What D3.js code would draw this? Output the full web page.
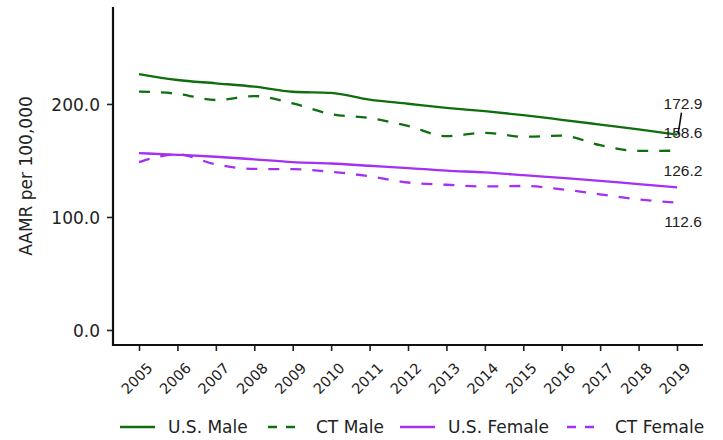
<!DOCTYPE html>
<html><head><meta charset="utf-8">
<script src="https://cdn.jsdelivr.net/npm/d3@7"></script>
<style>body{margin:0;background:#fff}svg{display:block}</style>
</head><body>
<svg id="chart" width="723" height="440"></svg>
<script>
const years = [2005,2006,2007,2008,2009,2010,2011,2012,2013,2014,2015,2016,2017,2018,2019];
const usMale   = [226.5,221.2,218.3,215.3,210.8,209.8,203.8,200.2,196.6,193.6,190.1,186.0,181.8,177.6,172.9];
const ctMale   = [211.0,209.0,203.5,207.0,200.5,191.0,187.5,180.5,171.5,174.5,171.0,172.0,163.5,158.5,158.6];
const usFemale = [156.5,155.0,153.3,151.0,148.5,147.3,145.3,143.3,141.0,139.4,137.0,134.5,132.0,129.0,126.2];
const ctFemale = [148.5,155.5,146.5,142.5,142.3,140.0,136.0,130.5,128.5,127.0,127.4,124.5,120.0,115.5,112.6];
const seriesNames = ["U.S. Male","CT Male","U.S. Female","CT Female"];
const yTicks = [0,100,200];

const GREEN = "#0f6f0f", PURPLE = "#a530f2";
const FONT = "DejaVu Sans";
const series = [
  {name: seriesNames[0], values: usMale,   color: GREEN,  dash: null},
  {name: seriesNames[1], values: ctMale,   color: GREEN,  dash: "11,11"},
  {name: seriesNames[2], values: usFemale, color: PURPLE, dash: null},
  {name: seriesNames[3], values: ctFemale, color: PURPLE, dash: "11,11"}
];

const svg = d3.select("#chart");
const panel = {left:113, right:703, top:7, bottom:345};
const x = d3.scaleLinear().domain([2005,2019]).range([139,677]);
const y = d3.scaleLinear().domain([-13.3,285.8]).range([panel.bottom, panel.top]);

// lines
const line = d3.line().x(d=>x(d[0])).y(d=>y(d[1])).curve(d3.curveMonotoneX);
series.forEach(s=>{
  svg.append("path")
    .datum(years.map((yr,i)=>[yr,s.values[i]]))
    .attr("d", line)
    .attr("fill","none")
    .attr("stroke", s.color)
    .attr("stroke-width", 2.3)
    .attr("stroke-dasharray", s.dash);
});

// axes
const yAxis = svg.append("g").attr("transform",`translate(${panel.left},0)`)
  .call(d3.axisLeft(y).tickValues(yTicks).tickFormat(d3.format(".1f")).tickSize(6).tickSizeOuter(0));
yAxis.select(".domain").remove();
yAxis.selectAll(".tick line").attr("stroke","#222").attr("stroke-width",1.6);
yAxis.selectAll(".tick text").attr("font-family",FONT).attr("font-size",17).attr("fill","#222").attr("x",-13).attr("dy","0.4em");

const xAxis = svg.append("g").attr("transform",`translate(0,${panel.bottom})`)
  .call(d3.axisBottom(x).tickValues(years).tickFormat(d3.format("d")).tickSize(6).tickSizeOuter(0));
xAxis.select(".domain").remove();
xAxis.selectAll(".tick line").attr("stroke","#222").attr("stroke-width",1.6);
xAxis.selectAll(".tick text")
  .attr("font-family",FONT).attr("font-size",14.5).attr("fill","#222")
  .attr("text-anchor","end").attr("dy",null).attr("y",0).attr("x",0)
  .attr("transform","translate(14,24) rotate(-45)");

svg.append("line").attr("x1",panel.left).attr("x2",panel.left).attr("y1",panel.top).attr("y2",panel.bottom+1)
  .attr("stroke","#111").attr("stroke-width",2.2);
svg.append("line").attr("x1",panel.left-1).attr("x2",panel.right).attr("y1",panel.bottom).attr("y2",panel.bottom)
  .attr("stroke","#111").attr("stroke-width",2.2);

// y axis title
svg.append("text").attr("transform","translate(32,176) rotate(-90)")
  .attr("text-anchor","middle").attr("font-family",FONT).attr("font-size",17).attr("fill","#222")
  .text("AAMR per 100,000");

// end labels
const labelOffsets = [-31,-18,-17,19];
series.forEach((s,i)=>{
  const v = s.values[s.values.length-1];
  svg.append("text")
    .attr("x", x(2019)+6).attr("y", y(v)+labelOffsets[i]).attr("dy","0.36em")
    .attr("text-anchor","middle").attr("font-family","Liberation Sans, Arial").attr("font-size",15.5).attr("fill","#222")
    .text(d3.format(".1f")(v));
});
// repel segment for first label
svg.append("line").attr("x1",x(2019)+4.5).attr("y1",y(usMale[14])-22).attr("x2",x(2019)+1).attr("y2",y(usMale[14]))
  .attr("stroke","#111").attr("stroke-width",1.6);

// legend
const legendX = [120,268,400,567];
const legY = 427;
series.forEach((s,i)=>{
  const g = svg.append("g").attr("transform",`translate(${legendX[i]},${legY})`);
  g.append("line").attr("x1",0).attr("x2",35).attr("y1",0).attr("y2",0)
    .attr("stroke",s.color).attr("stroke-width",2.3).attr("stroke-dasharray", s.dash ? "9,9" : null);
  g.append("text").attr("x",48).attr("y",0).attr("dy","0.36em")
    .attr("font-family",FONT).attr("font-size",17).attr("fill","#222").text(s.name);
});
</script>
</body></html>
